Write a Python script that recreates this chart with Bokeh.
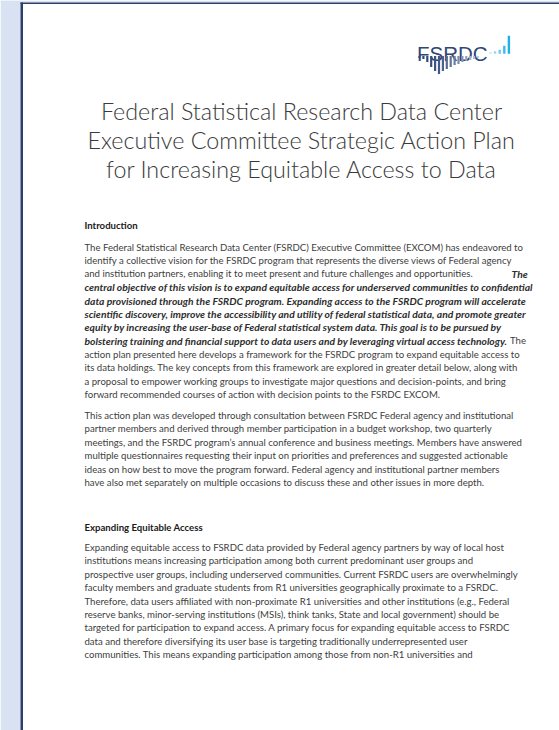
from bokeh.plotting import figure
from bokeh.models import Range1d
from bokeh.embed import file_html
from bokeh.resources import INLINE
from bokeh.core.properties import value

# ---------------- content ----------------
logo_text = "FSRDC"
logo_blue_heights = [1.5, 2.5, 4.0, 8.0, 18.0]
logo_navy_heights = [2, 3, 6, 11, 15, 18, 15, 13, 11, 9, 8, 6, 5, 4, 3, 2]

title_lines = [
    "Federal Statistical Research Data Center",
    "Executive Committee Strategic Action Plan",
    "for Increasing Equitable Access to Data",
]

heading_1 = "Introduction"
para_1 = [
    "The Federal Statistical Research Data Center (FSRDC) Executive Committee (EXCOM) has endeavored to",
    "identify a collective vision for the FSRDC program that represents the diverse views of Federal agency",
    "and institution partners, enabling it to meet present and future challenges and opportunities.",
    "central objective of this vision is to expand equitable access for underserved communities to confidential",
    "data provisioned through the FSRDC program. Expanding access to the FSRDC program will accelerate",
    "scientific discovery, improve the accessibility and utility of federal statistical data, and promote greater",
    "equity by increasing the user-base of Federal statistical system data. This goal is to be pursued by",
    "bolstering training and financial support to data users and by leveraging virtual access technology.",
    "action plan presented here develops a framework for the FSRDC program to expand equitable access to",
    "its data holdings. The key concepts from this framework are explored in greater detail below, along with",
    "a proposal to empower working groups to investigate major questions and decision-points, and bring",
    "forward recommended courses of action with decision points to the FSRDC EXCOM.",
]
para_1_emph = [False, False, False, True, True, True, True, True, False, False, False, False]
# trailing words that change style: (line index, word, emphasised?)
para_1_tail = [(2, "The", True), (7, "The", False)]

para_2 = [
    "This action plan was developed through consultation between FSRDC Federal agency and institutional",
    "partner members and derived through member participation in a budget workshop, two quarterly",
    "meetings, and the FSRDC program\u2019s annual conference and business meetings. Members have answered",
    "multiple questionnaires requesting their input on priorities and preferences and suggested actionable",
    "ideas on how best to move the program forward. Federal agency and institutional partner members",
    "have also met separately on multiple occasions to discuss these and other issues in more depth.",
]

heading_2 = "Expanding Equitable Access"
para_3 = [
    "Expanding equitable access to FSRDC data provided by Federal agency partners by way of local host",
    "institutions means increasing participation among both current predominant user groups and",
    "prospective user groups, including underserved communities. Current FSRDC users are overwhelmingly",
    "faculty members and graduate students from R1 universities geographically proximate to a FSRDC.",
    "Therefore, data users affiliated with non-proximate R1 universities and other institutions (e.g., Federal",
    "reserve banks, minor-serving institutions (MSIs), think tanks, State and local government) should be",
    "targeted for participation to expand access. A primary focus for expanding equitable access to FSRDC",
    "data and therefore diversifying its user base is targeting traditionally underrepresented user",
    "communities. This means expanding participation among those from non-R1 universities and",
]

# ---------------- layout / style ----------------
W, H = 559, 730
BG = "#d9e2f2"
NAVY = "#2b3f6b"
BODY = "#404040"
EMPH = "#2e2e2e"
BODY_FONT = value("Lato")
BODY_SIZE = "9.6px"
EMPH_SIZE = "10.3px"
LEAD = 13.38
TEXT_X = 84

p = figure(width=W, height=H, x_range=Range1d(0, W), y_range=Range1d(H, 0),
           output_backend="svg", toolbar_location=None, min_border=0,
           x_axis_type=None, y_axis_type=None)
p.grid.visible = False
p.outline_line_color = None
p.background_fill_color = "white"
p.border_fill_color = "white"

# page frame
p.quad(left=[0], right=[W], top=[0], bottom=[2], color=BG, line_color=None)
p.quad(left=[0], right=[20], top=[0], bottom=[H], color=BG, line_color=None)
p.quad(left=[20], right=[22.5], top=[2], bottom=[H], color=NAVY, line_color=None)
p.quad(left=[20], right=[W], top=[2], bottom=[3.6], color=NAVY, line_color=None)

# logo
p.text(x=[416.5], y=[53.3], text=[logo_text], text_font=value("Liberation Sans"),
       text_font_size="20.5px", text_color="#2f4676", text_baseline="alphabetic", text_align="left")
bx = [490 + i * 4.6 for i in range(len(logo_blue_heights))]
p.vbar(x=bx, width=2.4, top=[53.3 - h for h in logo_blue_heights], bottom=53.3,
       color=["#bfe6f7", "#96d6f2", "#6ccaf0", "#3fbbeb", "#1fb0e6"], line_color=None)
nx = [419 + i * 3.9 for i in range(len(logo_navy_heights))]
ncol = ["#2f4676", "#2f4676", "#34497a", "#384d7e", "#3d5282", "#445886", "#4c608c", "#566a93",
        "#61749a", "#6d7fa3", "#7a8bab", "#8797b4", "#95a3bd", "#a3b0c6", "#b1bdcf", "#c0cad8"]
p.vbar(x=nx, width=2.2, top=55.5, bottom=[55.5 + h for h in logo_navy_heights],
       color=ncol, line_color=None)

# title
p.text(x=[301] * 3, y=[110.5 + i * 28.8 for i in range(3)], text=title_lines,
       text_font=value("'Lato Light', Lato"), text_font_size="23.3px", text_color="#3a3a3a",
       text_align="center", text_baseline="alphabetic")

def body(lines, y0, emph=None):
    ys = [y0 + i * LEAD for i in range(len(lines))]
    if emph is None:
        emph = [False] * len(lines)
    norm = [(l, y) for l, y, e in zip(lines, ys, emph) if not e]
    bi = [(l, y) for l, y, e in zip(lines, ys, emph) if e]
    if norm:
        p.text(x=[TEXT_X] * len(norm), y=[y for _, y in norm], text=[l for l, _ in norm],
               text_font=BODY_FONT, text_font_size=BODY_SIZE, text_color=BODY,
               text_baseline="middle", text_align="left")
    if bi:
        p.text(x=[TEXT_X] * len(bi), y=[y for _, y in bi], text=[l for l, _ in bi],
               text_font=BODY_FONT, text_font_size=EMPH_SIZE, text_color=EMPH,
               text_font_style="bold italic", text_baseline="middle", text_align="left")
    return ys

def heading(t, y):
    p.text(x=[TEXT_X], y=[y], text=[t], text_font=BODY_FONT, text_font_size=BODY_SIZE,
           text_color="#1a1a1a", text_font_style="bold", text_baseline="middle", text_align="left")

heading(heading_1, 225)
ys1 = body(para_1, 246.7, para_1_emph)
tail_x = {2: 511, 7: 509.5}
for idx, word, e in para_1_tail:
    p.text(x=[tail_x[idx]], y=[ys1[idx]], text=[word], text_font=BODY_FONT,
           text_font_size=EMPH_SIZE if e else BODY_SIZE,
           text_color=EMPH if e else BODY, text_font_style="bold italic" if e else "normal",
           text_baseline="middle", text_align="left")
body(para_2, 415, None)
heading(heading_2, 526.7)
body(para_3, 547, None)

open("out.html", "w").write(file_html(p, INLINE))
